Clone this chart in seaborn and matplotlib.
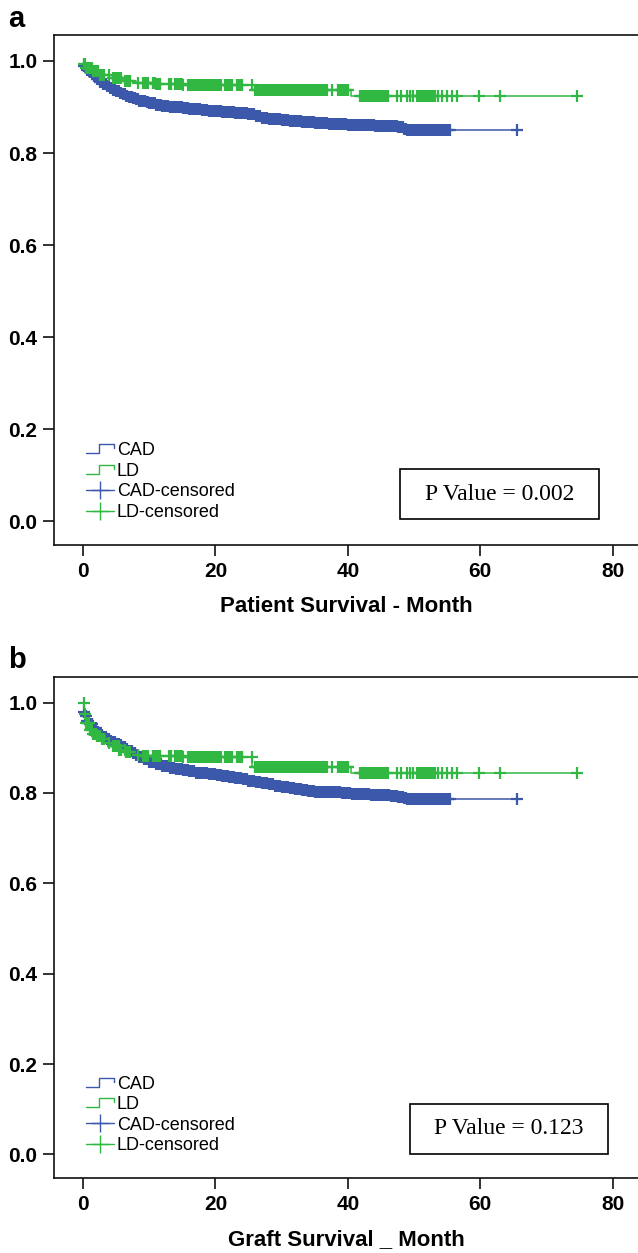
import numpy as np
import pandas as pd
import matplotlib
matplotlib.use("Agg")
import matplotlib.pyplot as plt
from matplotlib.lines import Line2D
from matplotlib.patches import Rectangle
from matplotlib.legend_handler import HandlerBase
import seaborn as sns

# ---------------- data ----------------
# Panel a: patient survival (step function: time -> survival after that time)
a_cad_t = [0, 0.3, 0.6, 1, 1.5, 2, 2.5, 3, 3.5, 4, 4.5, 5, 5.5, 6, 6.5, 7, 7.5, 8, 8.5, 9,
           9.5, 10, 11, 12, 13, 14, 15, 16, 17, 18, 19, 20, 21, 22, 23, 24, 25, 26, 27, 28,
           29, 30, 31, 32, 33, 34, 35, 36, 37, 38, 39, 40, 42, 44, 46, 47.5, 48.5, 49, 65.5]
a_cad_s = [0.990, 0.985, 0.980, 0.975, 0.967, 0.960, 0.955, 0.950, 0.946, 0.942, 0.938,
           0.935, 0.931, 0.928, 0.925, 0.922, 0.919, 0.917, 0.914, 0.912, 0.910, 0.908,
           0.905, 0.903, 0.901, 0.899, 0.897, 0.896, 0.895, 0.894, 0.892, 0.891, 0.890,
           0.889, 0.888, 0.887, 0.884, 0.880, 0.877, 0.875, 0.873, 0.872, 0.870, 0.869,
           0.868, 0.867, 0.866, 0.865, 0.864, 0.863, 0.862, 0.861, 0.860, 0.859, 0.858,
           0.856, 0.853, 0.850, 0.850]
a_ld_t = [0, 0.5, 1.5, 2.5, 4, 6, 8, 11, 15, 25.6, 40.5, 75.3]
a_ld_s = [0.993, 0.985, 0.978, 0.970, 0.963, 0.957, 0.953, 0.950, 0.948, 0.937, 0.925, 0.925]

# Panel b: graft survival
b_cad_t = [0, 0.3, 0.6, 1, 1.5, 2, 2.6, 3, 3.5, 4, 4.5, 5, 5.5, 6, 6.5, 7, 7.5, 8, 8.5, 9,
           10, 11, 12, 13, 14, 15, 16, 17, 18, 19, 20, 21, 22, 23, 24, 25, 26, 27, 28, 29,
           30, 31, 32, 33, 34, 35, 36, 37.5, 39, 40.5, 42, 43.5, 45, 46.5, 47.5, 48.5, 49,
           65.5]
b_cad_s = [0.980, 0.970, 0.960, 0.952, 0.943, 0.935, 0.928, 0.924, 0.920, 0.916, 0.912,
           0.908, 0.905, 0.901, 0.897, 0.892, 0.888, 0.884, 0.880, 0.876, 0.869, 0.864,
           0.860, 0.856, 0.853, 0.850, 0.848, 0.845, 0.843, 0.841, 0.839, 0.837, 0.835,
           0.832, 0.830, 0.827, 0.825, 0.822, 0.819, 0.816, 0.813, 0.811, 0.809, 0.807,
           0.805, 0.803, 0.802, 0.801, 0.800, 0.798, 0.797, 0.796, 0.795, 0.793, 0.792,
           0.789, 0.786, 0.786]
b_ld_t = [0, 0.2, 0.5, 1, 1.5, 2, 2.6, 3.5, 4.5, 5.5, 6.5, 7.5, 8.6, 15, 25.6, 40.5, 75.3]
b_ld_s = [1.000, 0.975, 0.955, 0.940, 0.930, 0.925, 0.920, 0.910, 0.903, 0.896, 0.890,
          0.885, 0.882, 0.879, 0.858, 0.843, 0.843]

# censoring times (months)
cad_cens = [0.2, 0.4, 0.6, 0.8, 1.0, 1.2, 1.4, 1.7, 1.9, 2.1, 2.3, 2.6, 2.8, 3.0, 3.2, 3.4,
            3.6, 3.9, 4.1, 4.3, 4.5, 4.8, 5.0, 5.2, 5.4, 5.6, 5.8, 6.1, 6.3, 6.5, 6.7,
            7.0, 7.2, 7.4, 7.6, 7.8, 8.0, 8.3, 8.5, 8.7, 8.9, 9.2, 9.4, 9.6, 9.8, 10.0,
            10.2, 10.5, 10.7, 10.9, 11.1, 11.4, 11.6, 11.8, 12.0, 12.2, 12.4, 12.7, 12.9,
            13.1, 13.3, 13.6, 13.8, 14.0, 14.2, 14.4, 14.6, 14.9, 15.1, 15.3, 15.5, 15.8,
            16.0, 16.2, 16.4, 16.6, 16.8, 17.1, 17.3, 17.5, 17.7, 18.0, 18.2, 18.4, 18.6,
            18.8, 19.0, 19.3, 19.5, 19.7, 19.9, 20.2, 20.4, 20.6, 20.8, 21.0, 21.2, 21.5,
            21.7, 21.9, 22.1, 22.4, 22.6, 22.8, 23.0, 23.2, 23.4, 23.7, 23.9, 24.1, 24.3,
            24.6, 24.8, 25.0, 25.2, 25.4, 25.6, 25.9, 26.1, 26.3, 26.5, 26.8, 27.0, 27.2,
            27.4, 27.6, 27.8, 28.1, 28.3, 28.5, 28.7, 29.0, 29.2, 29.4, 29.6, 29.8, 30.0,
            30.3, 30.5, 30.7, 30.9, 31.2, 31.4, 31.6, 31.8, 32.0, 32.2, 32.5, 32.7, 32.9,
            33.1, 33.4, 33.6, 33.8, 34.0, 34.2, 34.4, 34.7, 34.9, 35.1, 35.3, 35.6, 35.8,
            36.0, 36.2, 36.4, 36.6, 36.9, 37.1, 37.3, 37.5, 37.8, 38.0, 38.2, 38.4, 38.6,
            38.8, 39.1, 39.3, 39.5, 39.7, 40.0, 40.2, 40.4, 40.6, 40.8, 41.0, 41.3, 41.5,
            41.7, 41.9, 42.2, 42.4, 42.6, 42.8, 43.0, 43.2, 43.5, 43.7, 43.9, 44.1, 44.4,
            44.6, 44.8, 45.0, 45.2, 45.4, 45.7, 45.9, 46.1, 46.3, 46.6, 46.8, 47.0, 47.2,
            47.4, 47.6, 47.9, 48.1, 48.3, 48.5, 48.8, 49.0, 49.2, 49.4, 49.6, 49.8, 50.1,
            50.3, 50.5, 50.7, 51.0, 51.2, 51.4, 51.6, 51.8, 52.0, 52.3, 52.5, 52.7, 52.9,
            53.2, 53.4, 53.6, 53.8, 54.0, 54.2, 54.5, 54.7, 54.9, 55.1, 55.4, 65.5]
ld_cens = [0.1, 0.3, 0.5, 0.7, 0.9, 1.1, 1.3, 1.5, 1.7, 1.9, 2.1, 2.3, 2.5, 2.8, 3.0, 3.2,
           3.9, 4.6, 4.8, 4.9, 5.1, 5.2, 5.4, 5.5, 5.7, 6.3, 6.5, 6.7, 6.9, 7.1, 8.3,
           9.1, 9.3, 9.4, 9.6, 9.8, 10.6, 10.8, 10.9, 11.1, 11.2, 11.4, 11.6, 13.0, 13.3,
           13.9, 14.1, 14.3, 14.5, 14.7, 14.9, 15.1, 15.9, 16.1, 16.3, 16.5, 16.7, 16.9,
           17.1, 17.3, 17.5, 17.7, 17.9, 18.1, 18.3, 18.5, 18.7, 18.9, 19.1, 19.3, 19.5,
           19.7, 19.9, 20.1, 20.3, 20.6, 20.9, 21.5, 21.8, 22.0, 22.2, 22.5, 23.3, 23.5,
           23.7, 24.0, 25.5, 26.0, 26.2, 26.4, 26.6, 26.8, 27.0, 27.2, 27.4, 27.6, 27.8,
           28.0, 28.2, 28.4, 28.6, 28.8, 29.0, 29.2, 29.4, 29.6, 29.8, 30.0, 30.2, 30.4,
           30.6, 30.8, 31.0, 31.2, 31.4, 31.6, 31.8, 32.0, 32.2, 32.4, 32.6, 32.8, 33.0,
           33.2, 33.4, 33.6, 33.8, 34.0, 34.2, 34.4, 34.6, 34.8, 35.0, 35.2, 35.4, 35.6,
           35.8, 36.0, 36.2, 36.4, 36.6, 36.8, 37.6, 38.5, 38.7, 38.9, 39.1, 39.3, 39.5,
           39.7, 39.9, 40.1, 41.8, 42.0, 42.2, 42.4, 42.6, 42.8, 43.0, 43.2, 43.4, 43.6,
           43.8, 44.0, 44.2, 44.4, 44.6, 44.8, 45.0, 45.2, 45.4, 45.6, 45.8, 46.1, 47.4,
           48.1, 48.9, 49.4, 49.9, 50.4, 50.6, 50.8, 51.0, 51.2, 51.4, 51.6, 51.8, 52.0,
           52.2, 52.4, 52.6, 52.8, 53.0, 53.2, 53.6, 54.3, 55.0, 55.8, 56.5, 59.8, 63.0,
           74.6]

groups = ["CAD", "LD"]
p_values = ["P Value = 0.002", "P Value = 0.123"]
xlabels = ["Patient Survival - Month", "Graft Survival _ Month"]
panel_letters = ["a", "b"]
xticks = [0, 20, 40, 60, 80]
yticks = [0.0, 0.2, 0.4, 0.6, 0.8, 1.0]

BLUE = "#3c58aa"
GREEN = "#30b843"

# ---------------- style ----------------
sns.set_style("ticks")
plt.rcParams["font.family"] = ["Liberation Sans", "DejaVu Sans"]
plt.rcParams["text.color"] = "black"
plt.rcParams["axes.labelcolor"] = "black"
plt.rcParams["xtick.color"] = "black"
plt.rcParams["ytick.color"] = "black"
plt.rcParams["axes.edgecolor"] = "black"

W, H = 638, 1253
fig = plt.figure(figsize=(W / 100, H / 100), dpi=100)


def frac_box(l, t, r, b):
    return [l / W, 1 - b / H, (r - l) / W, (b - t) / H]


ax_a = fig.add_axes(frac_box(54, 35, 638, 545))
ax_b = fig.add_axes(frac_box(54, 677, 638, 1178))


def surv_at(times, surv, t):
    idx = np.searchsorted(np.asarray(times), np.asarray(t), side="right") - 1
    return np.asarray(surv)[np.clip(idx, 0, len(surv) - 1)]


class StepHandler(HandlerBase):
    def create_artists(self, legend, orig_handle, xdescent, ydescent, width, height,
                       fontsize, trans):
        x0 = -xdescent
        y_lo = -ydescent + height * 0.15
        y_hi = -ydescent + height * 0.85
        xs = [x0, x0 + width * 0.45, x0 + width * 0.45, x0 + width, x0 + width]
        ys = [y_lo, y_lo, y_hi, y_hi, y_hi - height * 0.3]
        ln = Line2D(xs, ys, color=orig_handle.get_color(), lw=1.0, transform=trans)
        return [ln]


def draw_panel(ax, cad_t, cad_s, ld_t, ld_s):
    for t, s, cens, col in [(cad_t, cad_s, cad_cens, BLUE), (ld_t, ld_s, ld_cens, GREEN)]:
        df = pd.DataFrame({"t": t, "s": s})
        sns.lineplot(data=df, x="t", y="s", drawstyle="steps-post", color=col, lw=1.1,
                     ax=ax, estimator=None, sort=False)
        cdf = pd.DataFrame({"t": cens, "s": surv_at(t, s, cens)})
        sns.scatterplot(data=cdf, x="t", y="s", marker="+", s=64, color=col,
                        linewidth=1.6, ax=ax, zorder=3)
    ax.set_xlim(-4.38, 83.84)
    ax.set_ylim(-0.052, 1.0565)
    ax.set_xticks(xticks)
    ax.set_yticks(yticks)
    ax.set_yticklabels([f"{v:.1f}" for v in yticks])
    ax.set_ylabel("")
    for sp in ["top", "left", "bottom"]:
        ax.spines[sp].set_linewidth(1.2)
        ax.spines[sp].set_color("#111111")
    ax.spines["right"].set_visible(False)
    ax.tick_params(axis="both", length=8, width=1.2, labelsize=15, pad=4,
                   color="#111111", labelcolor="black")
    for lab in ax.get_xticklabels() + ax.get_yticklabels():
        lab.set_fontweight("bold")

    handles = [Line2D([], [], color=BLUE), Line2D([], [], color=GREEN),
               Line2D([], [], color=BLUE, lw=1.0, marker="+", markersize=13, mew=1.0),
               Line2D([], [], color=GREEN, lw=1.0, marker="+", markersize=13, mew=1.0)]
    labels = [groups[0], groups[1], groups[0] + "-censored", groups[1] + "-censored"]
    leg = ax.legend(handles, labels, handler_map={handles[0]: StepHandler(),
                                                  handles[1]: StepHandler()},
                    loc="lower left", bbox_to_anchor=((86 - 54) / 584, 24 / 510),
                    frameon=False, fontsize=13, handlelength=1.55, handletextpad=0.15,
                    labelspacing=0.2, borderpad=0, borderaxespad=0, numpoints=1)
    for txt in leg.get_texts():
        txt.set_color("black")


draw_panel(ax_a, a_cad_t, a_cad_s, a_ld_t, a_ld_s)
draw_panel(ax_b, b_cad_t, b_cad_s, b_ld_t, b_ld_s)

ax_a.set_xlabel(xlabels[0], fontsize=16, fontweight="bold", labelpad=11, color="black")
ax_b.set_xlabel(xlabels[1], fontsize=16, fontweight="bold", labelpad=11, color="black")

# P value boxes
for (l, t, r, b), txt in [((400, 469, 599, 519), p_values[0]),
                          ((410, 1104, 608, 1154), p_values[1])]:
    x0, y0, w, h = frac_box(l, t, r, b)
    fig.patches.append(Rectangle((x0, y0), w, h, transform=fig.transFigure, fill=False,
                                 lw=1.2, edgecolor="black"))
    fig.text(x0 + w / 2, y0 + h / 2, txt, ha="center", va="center", fontsize=17,
             color="black", family=["Liberation Serif", "DejaVu Serif"])

fig.text(8 / W, 1 - 27 / H, panel_letters[0], fontsize=21, fontweight="bold",
         ha="left", va="baseline", color="black")
fig.text(8 / W, 1 - 668 / H, panel_letters[1], fontsize=21, fontweight="bold",
         ha="left", va="baseline", color="black")

fig.savefig("out.png", dpi=100)
